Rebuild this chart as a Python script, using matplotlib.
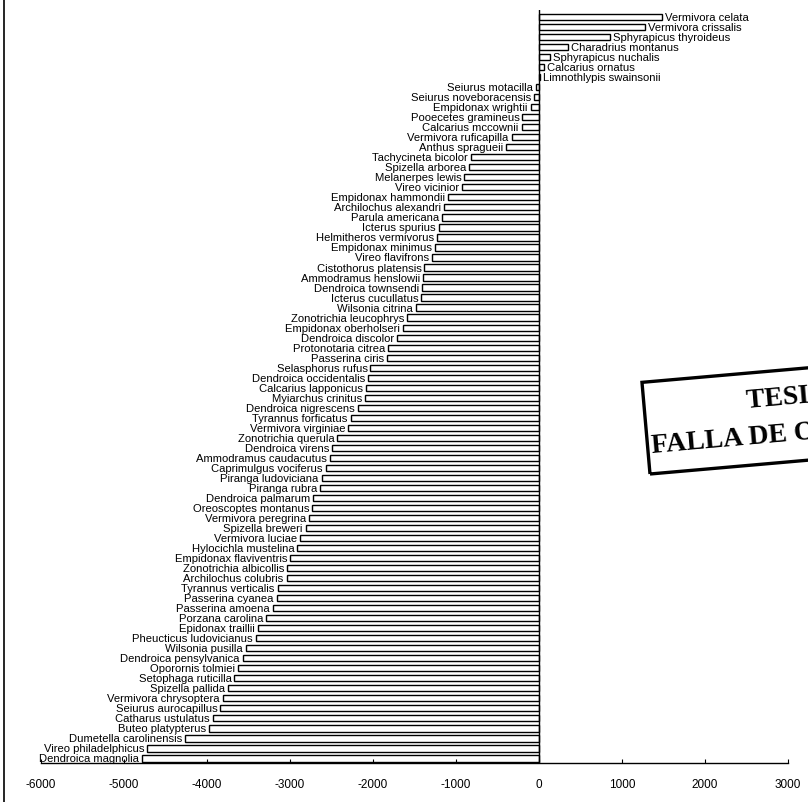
import numpy as np
import matplotlib.pyplot as plt
from matplotlib.patches import Rectangle
from matplotlib.lines import Line2D

plt.rcParams['font.family'] = ['Liberation Sans', 'DejaVu Sans']
plt.rcParams['axes.unicode_minus'] = False

# species listed top to bottom, with their change values
species = [
    'Vermivora celata', 'Vermivora crissalis', 'Sphyrapicus thyroideus',
    'Charadrius montanus', 'Sphyrapicus nuchalis', 'Calcarius ornatus',
    'Limnothlypis swainsonii',
    'Seiurus motacilla', 'Seiurus noveboracensis', 'Empidonax wrightii',
    'Pooecetes gramineus', 'Calcarius mccownii', 'Vermivora ruficapilla',
    'Anthus spragueii', 'Tachycineta bicolor', 'Spizella arborea',
    'Melanerpes lewis', 'Vireo vicinior', 'Empidonax hammondii',
    'Archilochus alexandri', 'Parula americana', 'Icterus spurius',
    'Helmitheros vermivorus', 'Empidonax minimus', 'Vireo flavifrons',
    'Cistothorus platensis', 'Ammodramus henslowii', 'Dendroica townsendi',
    'Icterus cucullatus', 'Wilsonia citrina', 'Zonotrichia leucophrys',
    'Empidonax oberholseri', 'Dendroica discolor', 'Protonotaria citrea',
    'Passerina ciris', 'Selasphorus rufus', 'Dendroica occidentalis',
    'Calcarius lapponicus', 'Myiarchus crinitus', 'Dendroica nigrescens',
    'Tyrannus forficatus', 'Vermivora virginiae', 'Zonotrichia querula',
    'Dendroica virens', 'Ammodramus caudacutus', 'Caprimulgus vociferus',
    'Piranga ludoviciana', 'Piranga rubra', 'Dendroica palmarum',
    'Oreoscoptes montanus', 'Vermivora peregrina', 'Spizella breweri',
    'Vermivora luciae', 'Hylocichla mustelina', 'Empidonax flaviventris',
    'Zonotrichia albicollis', 'Archilochus colubris', 'Tyrannus verticalis',
    'Passerina cyanea', 'Passerina amoena', 'Porzana carolina',
    'Epidonax traillii', 'Pheucticus ludovicianus', 'Wilsonia pusilla',
    'Dendroica pensylvanica', 'Oporornis tolmiei', 'Setophaga ruticilla',
    'Spizella pallida', 'Vermivora chrysoptera', 'Seiurus aurocapillus',
    'Catharus ustulatus', 'Buteo platypterus', 'Dumetella carolinensis',
    'Vireo philadelphicus', 'Dendroica magnolia',
]

change = [
    1480, 1280, 860, 350, 130, 60, 10,
    -40, -60, -100, -200, -210, -330, -400, -820, -840, -900, -930,
    -1100, -1150, -1170, -1210, -1230, -1250, -1290, -1380, -1400, -1410,
    -1420, -1480, -1590, -1640, -1710, -1820, -1830, -2030, -2060, -2080,
    -2100, -2180, -2270, -2300, -2430, -2490, -2520, -2570, -2620, -2640,
    -2720, -2730, -2770, -2810, -2880, -2910, -3000, -3030, -3040, -3150,
    -3160, -3210, -3290, -3390, -3410, -3530, -3570, -3630, -3670, -3750,
    -3810, -3840, -3930, -3980, -4260, -4720, -4780,
]

x_ticks = [-6000, -5000, -4000, -3000, -2000, -1000, 0, 1000, 2000, 3000]

n = len(species)
y = np.arange(n)[::-1]

fig = plt.figure(figsize=(8.08, 8.03), dpi=100)
ax = fig.add_axes([0.0507, 0.0486, 0.9245, 0.9377])

ax.barh(y, change, height=0.62, color='white', edgecolor='black', linewidth=1.0)

for yi, name, val in zip(y, species, change):
    if val < 0:
        ax.text(val - 35, yi, name, ha='right', va='center', fontsize=8.1)
    else:
        ax.text(val + 35, yi, name, ha='left', va='center', fontsize=8.1)

ax.axvline(0, color='black', lw=1.0)
ax.set_xlim(-6000, 3000)
ax.set_ylim(-0.45, n - 0.3)
ax.set_xticks(x_ticks)
ax.set_xticklabels([str(t) for t in x_ticks], fontsize=8.5)
ax.tick_params(axis='x', direction='in', length=3, pad=11)
ax.set_yticks([])
for side in ['top', 'right', 'left']:
    ax.spines[side].set_visible(False)
ax.spines['bottom'].set_linewidth(1.0)

# scan border on the left edge
fig.add_artist(Line2D([0.005, 0.005], [0, 1], color='black', lw=1.2,
                      transform=fig.transFigure))

# stamp box on the right
stamp = Rectangle((650, 328), 220, 92, angle=5, fill=False, edgecolor='black',
                  lw=2.4, transform=None, clip_on=False)
fig.add_artist(stamp)
fig.text(745 / 808, 1 - 395 / 803, 'TESIS CON', fontsize=20,
         family='Liberation Serif', weight='bold', rotation=5,
         va='center', ha='left')
fig.text(650 / 808, 1 - 435 / 803, 'FALLA DE ORIGEN', fontsize=20,
         family='Liberation Serif', weight='bold', rotation=5,
         va='center', ha='left')

fig.savefig('out.png', dpi=100)
